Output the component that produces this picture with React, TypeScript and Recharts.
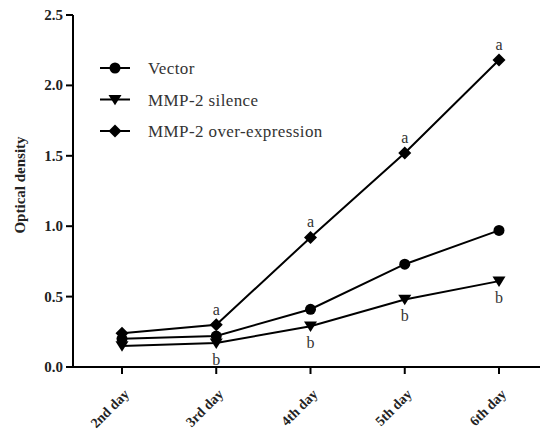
import React from "react";
import { LineChart, Line, XAxis, YAxis, LabelList } from "recharts";

const days = ["2nd day", "3rd day", "4th day", "5th day", "6th day"];
const vector = [0.2, 0.22, 0.41, 0.73, 0.97];
const silence = [0.15, 0.17, 0.29, 0.48, 0.61];
const overExpression = [0.24, 0.3, 0.92, 1.52, 2.18];
const silenceLetters = ["", "b", "b", "b", "b"];
const overLetters = ["", "a", "a", "a", "a"];
const yTicks = [0, 0.5, 1.0, 1.5, 2.0, 2.5];

const seriesNames = ["Vector", "MMP-2 silence", "MMP-2 over-expression"];
const yTitle = "Optical density";

const data = days.map((d, i) => ({
  day: d,
  vector: vector[i],
  silence: silence[i],
  over: overExpression[i],
  sLetter: silenceLetters[i],
  oLetter: overLetters[i],
}));

const FONT = "Liberation Serif, Tinos, Times New Roman, DejaVu Serif, serif";

const CircleDot = (p: any) => {
  const { cx, cy } = p;
  if (cx == null || cy == null) return null;
  return <circle cx={cx} cy={cy} r={5.5} fill="#000" />;
};
const TriDot = (p: any) => {
  const { cx, cy } = p;
  if (cx == null || cy == null) return null;
  const s = 6.5;
  return <polygon points={`${cx - s},${cy - s * 0.7} ${cx + s},${cy - s * 0.7} ${cx},${cy + s * 0.9}`} fill="#000" />;
};
const DiamondDot = (p: any) => {
  const { cx, cy } = p;
  if (cx == null || cy == null) return null;
  const s = 6.5;
  return <polygon points={`${cx},${cy - s} ${cx + s},${cy} ${cx},${cy + s} ${cx - s},${cy}`} fill="#000" />;
};

const markers = [CircleDot, TriDot, DiamondDot];

const XTick = (p: any) => {
  const { x, y, payload } = p;
  const ax = x + 8;
  const ay = y + 19;
  return (
    <text
      x={ax}
      y={ay}
      transform={`rotate(-45 ${ax} ${ay})`}
      textAnchor="end"
      fontFamily={FONT}
      fontWeight="bold"
      fontSize={14}
      fill="#222"
    >
      {payload.value}
    </text>
  );
};

const YTick = (p: any) => {
  const { x, y, payload } = p;
  return (
    <text x={x - 1} y={y + 5} textAnchor="end" fontFamily={FONT} fontWeight="bold" fontSize={15} fill="#222">
      {Number(payload.value).toFixed(1)}
    </text>
  );
};

const YTitle = (p: any) => {
  const vb = p.viewBox || { x: 0, y: 0, height: 0 };
  const cx = 20;
  const cy = vb.y + vb.height / 2 - 6;
  return (
    <text
      x={cx}
      y={cy}
      transform={`rotate(-90 ${cx} ${cy})`}
      textAnchor="middle"
      dominantBaseline="central"
      fontFamily={FONT}
      fontWeight="bold"
      fontSize={15}
      fill="#222"
    >
      {yTitle}
    </text>
  );
};

const letterBelow = (p: any) => {
  const { x, y, value } = p;
  if (!value) return null;
  return (
    <text x={x} y={y + 22} textAnchor="middle" fontFamily={FONT} fontSize={16} fill="#333">
      {value}
    </text>
  );
};
const letterAbove = (p: any) => {
  const { x, y, value } = p;
  if (!value) return null;
  return (
    <text x={x} y={y - 10} textAnchor="middle" fontFamily={FONT} fontSize={16} fill="#333">
      {value}
    </text>
  );
};

const LegendBox = () => (
  <svg width={280} height={90} style={{ position: "absolute", left: 96, top: 56 }}>
    {seriesNames.map((name, i) => {
      const cy = 12 + i * 31.5;
      const M = markers[i];
      return (
        <g key={name}>
          <line x1={4} y1={cy} x2={34} y2={cy} stroke="#000" strokeWidth={2} />
          <M cx={19} cy={cy} />
          <text x={52} y={cy + 6} fontFamily={FONT} fontSize={17} letterSpacing={0.4} fill="#333">
            {name}
          </text>
        </g>
      );
    })}
  </svg>
);

export default function App() {
  return (
    <div style={{ position: "absolute", left: 0, top: 0, width: 545, height: 437, background: "#fff", fontFamily: FONT }}>
      <LineChart width={545} height={437} data={data} margin={{ top: 15, right: 5, left: 0, bottom: 0 }} style={{ fontFamily: FONT }}>
        <XAxis
          dataKey="day"
          height={70}
          padding={{ left: 49, right: 41 }}
          axisLine={{ stroke: "#000", strokeWidth: 2 }}
          tickLine={{ stroke: "#000", strokeWidth: 2 }}
          tickSize={7}
          tick={<XTick />}
          interval={0}
        />
        <YAxis
          width={73}
          domain={[0, 2.5]}
          ticks={yTicks}
          axisLine={{ stroke: "#000", strokeWidth: 2 }}
          tickLine={{ stroke: "#000", strokeWidth: 2 }}
          tickSize={7}
          tick={<YTick />}
          label={<YTitle />}
        />
        <Line dataKey="vector" name={seriesNames[0]} stroke="#000" strokeWidth={2} dot={<CircleDot />} activeDot={false} isAnimationActive={false} type="linear" />
        <Line dataKey="silence" name={seriesNames[1]} stroke="#000" strokeWidth={2} dot={<TriDot />} activeDot={false} isAnimationActive={false} type="linear">
          <LabelList dataKey="sLetter" content={letterBelow} />
        </Line>
        <Line dataKey="over" name={seriesNames[2]} stroke="#000" strokeWidth={2} dot={<DiamondDot />} activeDot={false} isAnimationActive={false} type="linear">
          <LabelList dataKey="oLetter" content={letterAbove} />
        </Line>
      </LineChart>
      <LegendBox />
    </div>
  );
}
